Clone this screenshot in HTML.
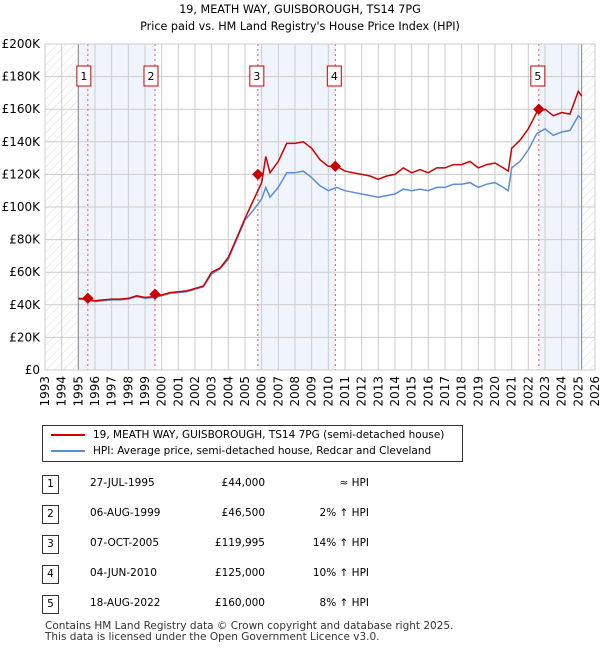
<!DOCTYPE html>
<html><head><meta charset="utf-8"><style>
body{margin:0;width:600px;height:650px;background:#fff;font-family:"DejaVu Sans","Liberation Sans",sans-serif;position:relative;overflow:hidden;color:#000}
.t{position:absolute;font-size:12px}
</style></head><body>
<div class="t" style="left:0;width:600px;text-align:center;top:3px;font-size:11.2px">19, MEATH WAY, GUISBOROUGH, TS14 7PG</div>
<div class="t" style="left:0;width:600px;text-align:center;top:20px;font-size:11.2px">Price paid vs. HM Land Registry's House Price Index (HPI)</div>
<svg id="chart" width="600" height="420" style="position:absolute;left:0;top:0" font-family="DejaVu Sans, Liberation Sans, sans-serif"></svg>

<div style="position:absolute;left:42px;top:425px;width:419px;height:35px;border:1px solid #333;font-size:10.5px">
 <div style="position:absolute;left:8px;top:3px;white-space:nowrap"><span style="display:inline-block;width:34px;height:2px;background:#c00;vertical-align:middle;margin-right:8px"></span>19, MEATH WAY, GUISBOROUGH, TS14 7PG (semi-detached house)</div>
 <div style="position:absolute;left:8px;top:19px;white-space:nowrap"><span style="display:inline-block;width:34px;height:2px;background:#5b8fd4;vertical-align:middle;margin-right:8px"></span>HPI: Average price, semi-detached house, Redcar and Cleveland</div>
</div>
<div id="tbl"></div>
<div class="t" style="left:45px;top:620px;font-size:10.5px;color:#333">Contains HM Land Registry data © Crown copyright and database right 2025.</div>
<div class="t" style="left:45px;top:631px;font-size:10.5px;color:#333">This data is licensed under the Open Government Licence v3.0.</div>
<script>
const years=[1995,1995.5,1996,1996.5,1997,1997.5,1998,1998.5,1999,1999.5,2000,2000.5,2001,2001.5,2002,2002.5,2003,2003.5,2004,2004.5,2005,2005.5,2006,2006.25,2006.5,2007,2007.5,2008,2008.5,2009,2009.5,2010,2010.5,2011,2011.5,2012,2012.5,2013,2013.5,2014,2014.5,2015,2015.5,2016,2016.5,2017,2017.5,2018,2018.5,2019,2019.5,2020,2020.5,2020.8,2021,2021.5,2022,2022.5,2023,2023.5,2024,2024.5,2025,2025.2];
const hpi=[43.5,43,42,42.5,43,43,43.5,45,44,44.5,45.5,47,47.5,48,49.5,51,59,62,68,80,92,98,105,112,106,112,121,121,122,118,113,110,112,110,109,108,107,106,107,108,111,110,111,110,112,112,114,114,115,112,114,115,112,110,124,128,135,145,148,144,146,147,156,154];
const red=[44,43.5,42.5,43,43.5,43.5,44,45.5,44.5,45,46,47.5,48,48.5,50,51.5,60,62.5,69,81,93,104,115,131,121,128,139,139,140,136,129,125,125,122,121,120,119,117,119,120,124,121,123,121,124,124,126,126,128,124,126,127,124,122,136,141,148,158,160,156,158,157,171,168];
const saleYears=[1995.57,1999.6,2005.77,2010.42,2022.63];
const salePrices=[44,46.5,119.995,125,160];
const yTicks=[0,20,40,60,80,100,120,140,160,180,200];
const xTicks=[1993,1994,1995,1996,1997,1998,1999,2000,2001,2002,2003,2004,2005,2006,2007,2008,2009,2010,2011,2012,2013,2014,2015,2016,2017,2018,2019,2020,2021,2022,2023,2024,2025,2026];
const X0=45,X1=595,Y0=370,Y1=44;
const x=v=>X0+(v-1993)/33*(X1-X0);
const y=v=>Y0-v/200*(Y0-Y1);
const svg=document.getElementById('chart');
const NS='http://www.w3.org/2000/svg';
function mk(t,a,p){const e=document.createElementNS(NS,t);for(const k in a)e.setAttribute(k,a[k]);(p||svg).appendChild(e);return e;}
let defs=mk('defs',{});
let pat=mk('pattern',{id:'hatch',width:6,height:6,patternUnits:'userSpaceOnUse',patternTransform:'rotate(45)'},defs);
mk('line',{x1:0,y1:0,x2:0,y2:6,stroke:'#ddd','stroke-width':1},pat);
let e;
e=mk('rect',{x:X0,y:Y1,width:x(1995)-X0,height:Y0-Y1,fill:'url(#hatch)'});

e=mk('rect',{x:x(2025.2),y:Y1,width:X1-x(2025.2),height:Y0-Y1,fill:'url(#hatch)'});

const bands=[[1995,saleYears[1]],[saleYears[2],saleYears[3]],[saleYears[4],2025.2]];
bands.forEach(b=>{e=mk('rect',{x:x(b[0]),y:Y1,width:x(b[1])-x(b[0]),height:Y0-Y1,fill:'#f0f4fc'});
});
yTicks.forEach(t=>{e=mk('line',{x1:X0,x2:X1,y1:y(t),y2:y(t),stroke:'#ccc'});

e=mk('text',{x:40,y:y(t)+4,'text-anchor':'end','font-size':12});e.textContent=t==0?'£0':'£'+t+'K';
});
xTicks.forEach(t=>{e=mk('line',{x1:x(t),x2:x(t),y1:Y1,y2:Y0,stroke:'#ccc'});

e=mk('text',{transform:`translate(${x(t)+4},${Y0+6}) rotate(-90)`,'text-anchor':'end','font-size':12});e.textContent=t;
});
e=mk('line',{x1:x(1995),x2:x(1995),y1:Y1,y2:Y0,stroke:'#888'});
e=mk('line',{x1:x(2025.2),x2:x(2025.2),y1:Y1,y2:Y0,stroke:'#888'});
saleYears.forEach((s,i)=>{e=mk('line',{x1:x(s),x2:x(s),y1:Y1,y2:Y0,stroke:'#e55','stroke-dasharray':'2,3'});
});
const pts=a=>a.map((v,i)=>x(years[i]).toFixed(1)+','+y(v).toFixed(1)).join(' ');
e=mk('polyline',{points:pts(hpi),fill:'none',stroke:'#5b8fd4','stroke-width':1.5});

e=mk('polyline',{points:pts(red),fill:'none',stroke:'#c00','stroke-width':1.5});

saleYears.forEach((s,i)=>{e=mk('rect',{x:x(s)-4,y:y(salePrices[i])-4,width:8,height:8,fill:'#c00',transform:`rotate(45 ${x(s)} ${y(salePrices[i])})`});

const g=mk('g',{});
const cx=x(s)-(i<2?4:1);
mk('rect',{x:cx-7,y:66,width:14,height:20,fill:'#fff',stroke:'#c00'},g);
const tt=mk('text',{x:cx,y:80,'text-anchor':'middle','font-size':11},g);tt.textContent=i+1;});
e=mk('rect',{x:X0,y:Y1,width:X1-X0,height:Y0-Y1,fill:'none',stroke:'#ccc'});
const rows=[["1","27-JUL-1995","£44,000","≈ HPI"],["2","06-AUG-1999","£46,500","2% ↑ HPI"],["3","07-OCT-2005","£119,995","14% ↑ HPI"],["4","04-JUN-2010","£125,000","10% ↑ HPI"],["5","18-AUG-2022","£160,000","8% ↑ HPI"]];
const tbl=document.getElementById('tbl');
rows.forEach((r,i)=>{const top=475+i*30;const d=document.createElement('div');


d.innerHTML=`<div style="position:absolute;left:42px;top:${top}px;width:15px;height:17px;border:1px solid #333;text-align:center;font-size:10.5px;line-height:17px">${r[0]}</div>
<div style="position:absolute;left:90px;width:110px;top:${top+2}px;font-size:10.5px">${r[1]}</div>
<div style="position:absolute;left:165px;width:100px;text-align:right;top:${top+2}px;font-size:10.5px">${r[2]}</div>
<div style="position:absolute;left:270px;width:99px;text-align:right;top:${top+2}px;font-size:10.5px">${r[3]}</div>`;
tbl.appendChild(d);});
</script>
</body></html>
